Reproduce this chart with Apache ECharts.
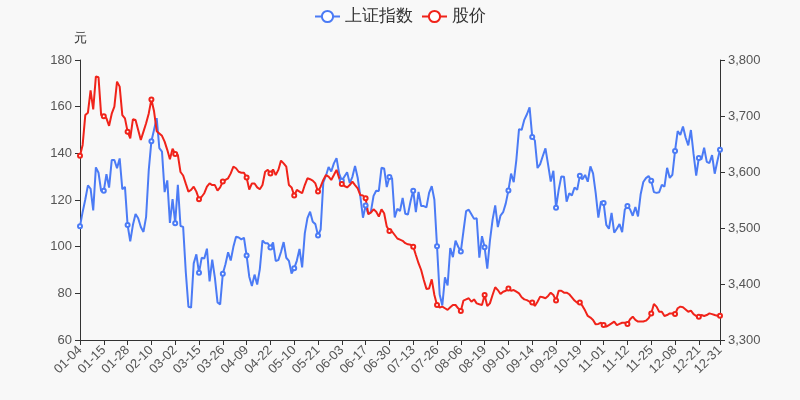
<!DOCTYPE html>
<html>
<head>
<meta charset="utf-8">
<script src="https://cdn.jsdelivr.net/npm/echarts@6/dist/echarts.min.js"></script>
<style>html,body{margin:0;padding:0;background:#f8f8f8;}#c{width:800px;height:400px;}</style>
</head>
<body>
<div id="c"></div>
<script>
const dates = [
'01-04','01-05','01-06','01-07','01-08','01-11','01-12','01-13','01-14','01-15','01-18','01-19','01-20','01-21','01-22','01-25','01-26','01-27','01-28','01-29',
'02-01','02-02','02-03','02-04','02-05','02-08','02-09','02-10','02-18','02-19','02-22','02-23','02-24','02-25','02-26',
'03-01','03-02','03-03','03-04','03-05','03-08','03-09','03-10','03-11','03-12','03-15','03-16','03-17','03-18','03-19','03-22','03-23','03-24','03-25','03-26','03-29','03-30','03-31',
'04-01','04-02','04-06','04-07','04-08','04-09','04-12','04-13','04-14','04-15','04-16','04-19','04-20','04-21','04-22','04-23','04-26','04-27','04-28','04-29','04-30',
'05-06','05-07','05-10','05-11','05-12','05-13','05-14','05-17','05-18','05-19','05-20','05-21','05-24','05-25','05-26','05-27','05-28','05-31',
'06-01','06-02','06-03','06-04','06-07','06-08','06-09','06-10','06-11','06-15','06-16','06-17','06-18','06-21','06-22','06-23','06-24','06-25','06-28','06-29','06-30',
'07-01','07-02','07-05','07-06','07-07','07-08','07-09','07-12','07-13','07-14','07-15','07-16','07-19','07-20','07-21','07-22','07-23','07-26','07-27','07-28','07-29','07-30',
'08-02','08-03','08-04','08-05','08-06','08-09','08-10','08-11','08-12','08-13','08-16','08-17','08-18','08-19','08-20','08-23','08-24','08-25','08-26','08-27','08-30','08-31',
'09-01','09-02','09-03','09-06','09-07','09-08','09-09','09-10','09-13','09-14','09-15','09-16','09-17','09-22','09-23','09-24','09-27','09-28','09-29','09-30',
'10-08','10-11','10-12','10-13','10-14','10-15','10-18','10-19','10-20','10-21','10-22','10-25','10-26','10-27','10-28','10-29',
'11-01','11-02','11-03','11-04','11-05','11-08','11-09','11-10','11-11','11-12','11-15','11-16','11-17','11-18','11-19','11-22','11-23','11-24','11-25','11-26','11-29','11-30',
'12-01','12-02','12-03','12-06','12-07','12-08','12-09','12-10','12-13','12-14','12-15','12-16','12-17','12-20','12-21','12-22','12-23','12-24','12-27','12-28','12-29','12-30','12-31'
];

const indexValues = [
3502.96,3528.68,3550.88,3576.20,3570.11,3531.50,3608.34,3598.65,3565.90,3566.38,3596.22,3572.00,3621.26,3621.39,3606.75,3624.24,3569.43,3573.34,3505.18,3476.00,
3505.28,3525.00,3517.31,3501.86,3493.00,3520.00,3603.49,3655.09,3675.36,3696.17,3642.44,3636.36,3564.08,3585.05,3509.08,
3551.40,3508.59,3576.90,3503.49,3501.99,3421.41,3359.29,3357.74,3436.83,3453.08,3419.95,3446.73,3445.55,3463.07,3404.66,3443.44,3411.51,3367.06,3363.59,3418.33,3435.30,3456.68,3441.91,
3466.33,3484.39,3482.99,3479.63,3482.56,3450.68,3412.95,3396.47,3416.75,3398.99,3426.62,3477.55,3472.94,3472.93,3465.11,3474.17,3441.17,3442.61,3457.07,3474.90,3446.86,
3441.28,3418.87,3427.99,3441.85,3462.75,3429.54,3490.38,3517.62,3529.01,3510.96,3506.94,3486.56,3497.28,3581.34,3593.36,3608.85,3600.78,3615.48,
3624.71,3597.14,3584.22,3591.84,3599.54,3580.11,3591.40,3610.86,3589.75,3556.56,3518.33,3540.00,3525.10,3529.18,3557.41,3566.65,3566.22,3607.56,3606.37,3573.18,3591.20,
3588.78,3518.76,3534.32,3530.26,3553.72,3525.50,3524.09,3547.84,3566.73,3528.50,3564.59,3539.30,3539.12,3536.79,3562.70,3574.73,3550.40,3467.44,3381.18,3361.59,3411.72,3397.36,
3464.29,3447.99,3477.22,3466.56,3458.23,3494.63,3529.93,3532.62,3524.74,3516.30,3517.34,3446.98,3485.29,3465.55,3427.33,3477.13,3514.47,3540.38,3501.66,3522.16,3528.15,3543.94,
3567.10,3597.04,3581.73,3621.86,3676.59,3675.19,3693.13,3703.11,3715.37,3662.60,3656.22,3607.09,3613.97,3628.49,3642.22,3613.07,3582.83,3602.22,3536.29,3568.17,
3592.17,3591.71,3546.94,3561.76,3558.28,3572.37,3568.14,3593.15,3587.00,3594.78,3582.60,3609.86,3597.64,3562.31,3518.42,3547.34,
3544.48,3505.63,3498.54,3526.87,3491.57,3498.63,3507.00,3492.46,3532.79,3539.10,3533.30,3521.79,3537.37,3520.71,3560.37,3582.08,3589.09,3592.70,3584.18,3564.09,3562.70,3563.89,
3576.89,3573.84,3607.43,3589.31,3595.09,3637.57,3673.04,3666.35,3681.08,3661.53,3647.63,3675.02,3632.36,3593.60,3625.13,3622.62,3643.34,3618.05,3615.97,3630.11,3597.00,3619.19,3639.78
];

const priceValues = [
139.0,143.6,156.4,157.4,167.0,158.8,172.9,172.6,156.4,155.9,155.0,151.8,157.0,160.0,170.7,168.6,156.4,155.0,149.3,146.4,
154.6,154.3,150.0,145.7,149.3,152.9,157.1,163.1,158.0,149.5,148.5,147.5,145.0,141.5,137.5,
142.0,139.7,139.3,132.0,130.5,127.0,123.6,124.3,125.7,123.6,120.3,121.4,122.9,125.7,127.1,126.4,126.4,124.0,125.4,127.9,128.6,129.3,131.4,
134.3,133.6,132.1,131.7,131.7,129.6,124.5,127.1,127.1,125.4,124.6,126.4,132.1,132.9,131.4,133.1,130.7,132.9,136.9,135.7,134.3,
126.4,125.4,121.9,124.3,123.6,122.9,126.4,129.3,128.9,128.3,127.1,123.6,125.7,128.6,130.7,130.0,128.6,130.7,
132.9,129.3,126.9,126.0,125.4,126.4,127.9,126.4,125.0,122.1,121.9,120.7,114.0,114.6,116.0,115.0,112.9,116.0,114.3,108.6,106.7,
106.5,105.0,103.5,103.0,102.5,101.5,101.0,100.8,100.0,96.4,92.9,90.0,85.7,81.9,82.1,86.0,79.3,75.0,73.9,74.3,73.6,72.9,
74.0,75.0,75.0,73.6,72.4,76.9,77.4,77.9,76.4,77.4,75.7,75.3,75.0,79.3,74.6,75.7,79.3,82.6,81.4,79.7,80.7,81.1,
82.1,81.1,81.4,80.7,80.0,78.3,77.4,77.1,76.4,76.1,74.6,76.4,78.6,78.3,77.9,78.9,80.3,79.3,76.9,81.1,
81.1,80.3,80.3,79.6,78.3,76.9,76.0,76.1,74.6,72.6,70.3,69.6,68.6,66.7,66.9,67.4,
66.4,65.7,66.4,67.1,67.9,66.4,66.9,67.4,67.4,66.9,68.9,70.0,68.6,67.9,67.9,67.9,68.3,69.3,71.4,75.4,74.3,72.1,
72.1,70.3,70.7,71.4,71.4,71.1,73.6,74.3,74.0,73.1,72.1,72.6,71.1,70.3,70.0,70.7,70.3,70.7,71.4,71.1,70.7,70.4,70.4
];

const leftTicks = { min: 60, max: 180, interval: 20 };
const rightTicks = { min: 3300, max: 3800, interval: 100 };
const labelStep = 9;

const chart = echarts.init(document.getElementById('c'));
const lastIdx = dates.length - 1;
const axisColor = '#333';
const showIdx = function (i) { return i % labelStep === 0 || i === lastIdx; };
chart.setOption({
  backgroundColor: '#f8f8f8',
  animation: false,
  color: ['#4b7bf5', '#f0231a'],
  legend: {
    top: 3,
    left: 'center',
    itemWidth: 25,
    itemHeight: 14,
    textStyle: { fontSize: 17, color: '#333' },
    data: ['上证指数', '股价']
  },
  grid: { left: 80, right: 80, top: 60, bottom: 60 },
  xAxis: {
    type: 'category',
    data: dates,
    boundaryGap: false,
    axisLine: { lineStyle: { color: axisColor } },
    axisTick: { show: true, interval: showIdx },
    axisLabel: { rotate: 45, color: '#555', fontSize: 13, interval: showIdx }
  },
  yAxis: [
    {
      type: 'value',
      name: '元',
      min: leftTicks.min, max: leftTicks.max, interval: leftTicks.interval,
      nameTextStyle: { color: '#333', fontSize: 13 },
      axisLine: { show: true, lineStyle: { color: axisColor } },
      axisTick: { show: true },
      axisLabel: { color: '#555', fontSize: 13 },
      splitLine: { show: false }
    },
    {
      type: 'value',
      min: rightTicks.min, max: rightTicks.max, interval: rightTicks.interval,
      axisLine: { show: true, lineStyle: { color: axisColor } },
      axisTick: { show: true },
      axisLabel: { color: '#555', fontSize: 13 },
      splitLine: { show: false }
    }
  ],
  series: [
    {
      name: '上证指数',
      type: 'line',
      yAxisIndex: 1,
      data: indexValues,
      symbol: 'emptyCircle',
      symbolSize: 4,
      lineStyle: { width: 2 }
    },
    {
      name: '股价',
      type: 'line',
      yAxisIndex: 0,
      data: priceValues,
      symbol: 'emptyCircle',
      symbolSize: 4,
      lineStyle: { width: 2 }
    }
  ]
});
</script>
</body>
</html>
